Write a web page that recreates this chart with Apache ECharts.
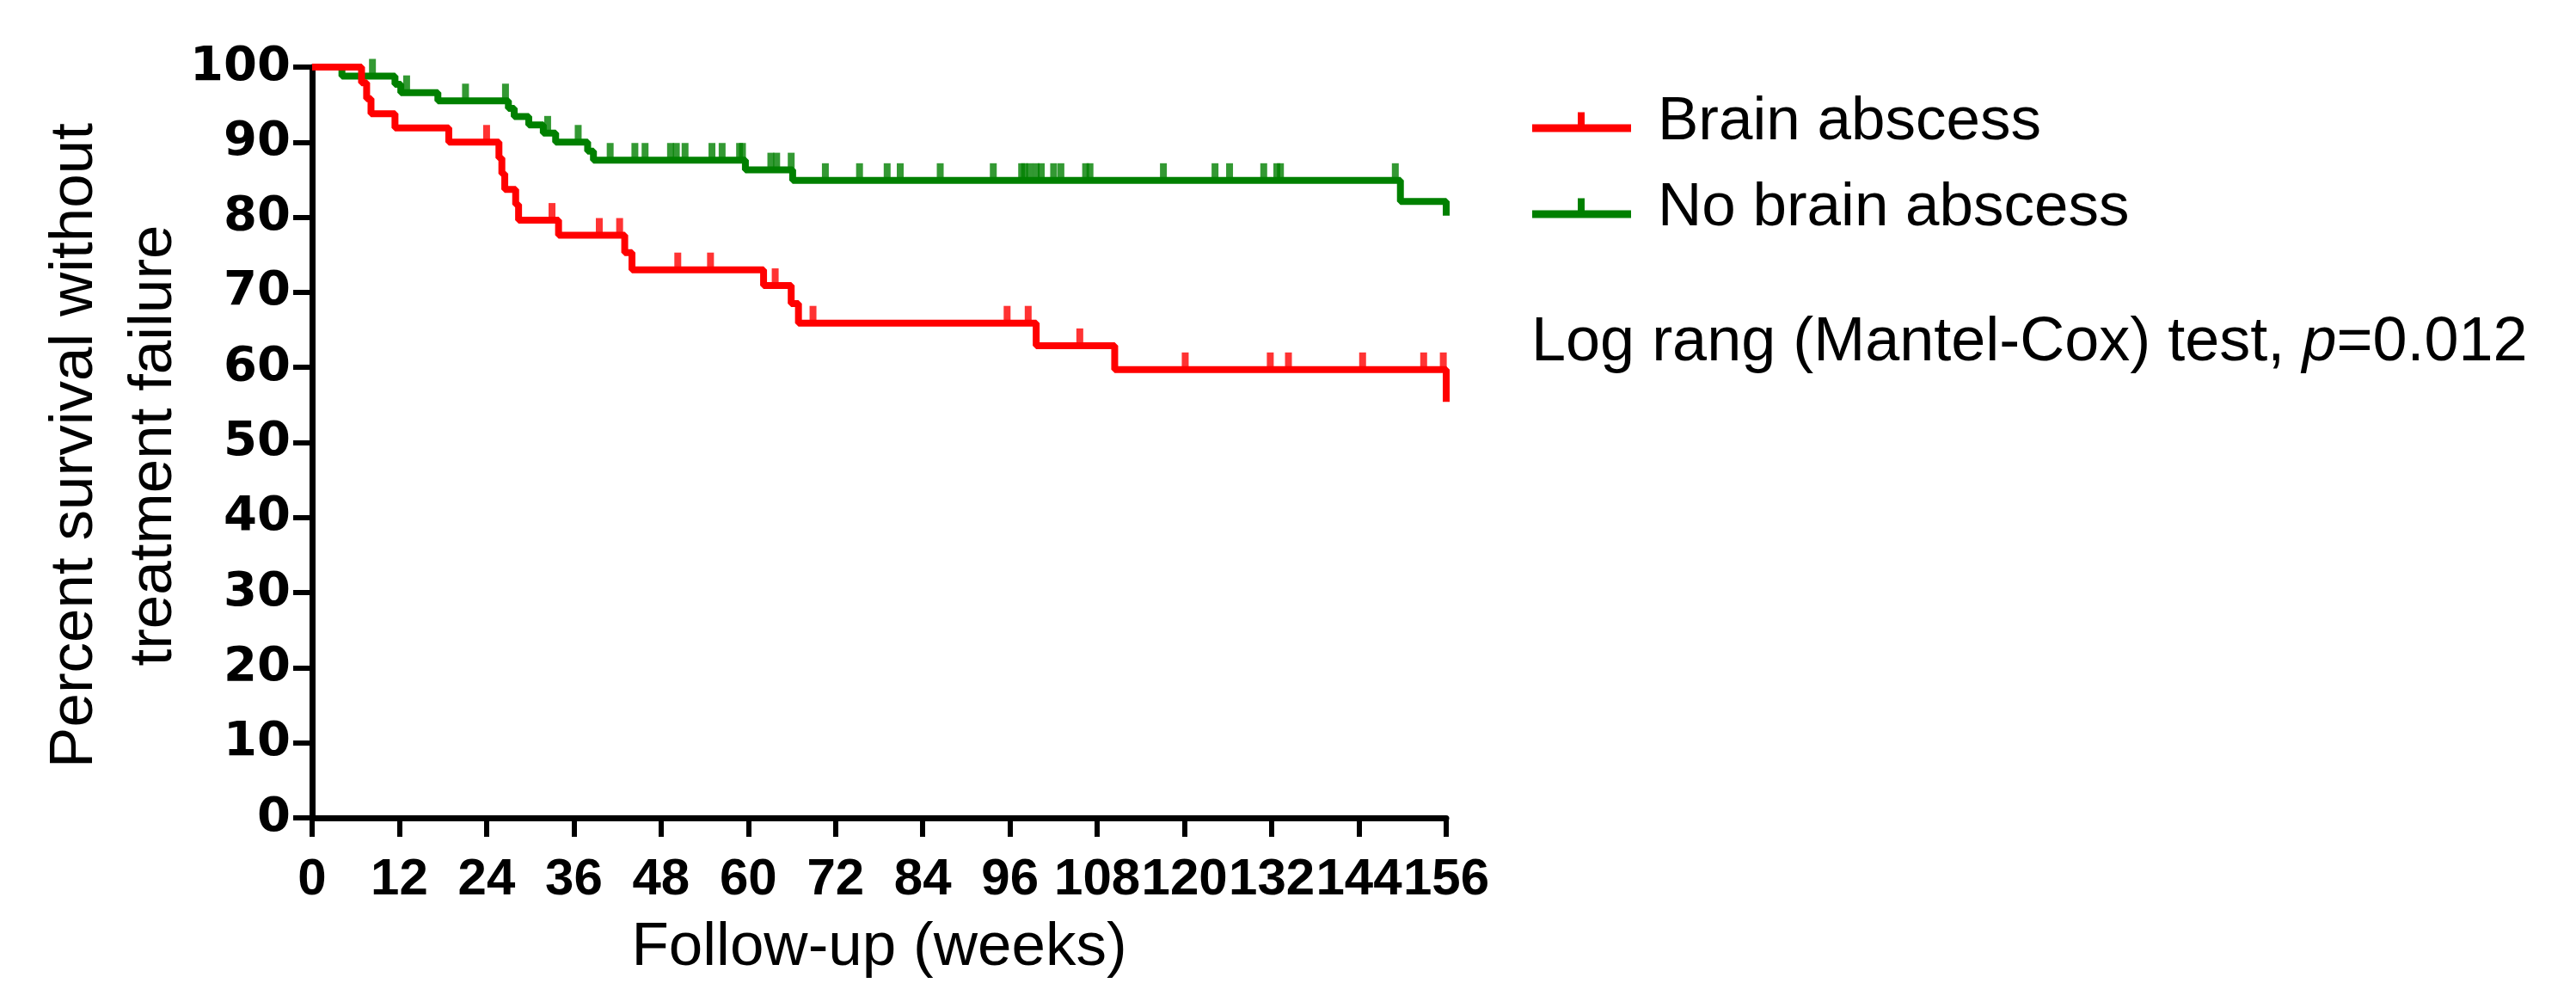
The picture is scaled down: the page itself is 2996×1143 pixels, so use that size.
<!DOCTYPE html>
<html>
<head>
<meta charset="utf-8">
<script src="https://cdn.jsdelivr.net/npm/echarts@6/dist/echarts.min.js"></script>
<style>
html,body{margin:0;padding:0;background:#fff;}
#chart{width:2996px;height:1143px;}
</style>
</head>
<body>
<div id="chart"></div>
<script>
// ---- data ----
const seriesNames = ['Brain abscess', 'No brain abscess'];

const redEventWeeks = [0, 6.8, 7.5, 8.1, 11.4, 18.8, 25.7, 26.1, 26.5, 28.0, 28.4, 33.9, 43.0, 44.0, 62.1, 65.9, 66.9, 99.6, 110.4, 156];
const redSurvival   = [100, 97.9, 95.8, 93.8, 91.9, 90.0, 87.9, 85.8, 83.7, 81.7, 79.6, 77.6, 75.3, 73.0, 70.9, 68.5, 65.9, 62.9, 59.7, 55.4];
const redCensoredWeeks = [24.0, 33.0, 39.5, 42.3, 50.3, 54.8, 63.7, 68.9, 95.6, 98.5, 105.6, 120.1, 131.8, 134.3, 144.5, 152.9, 155.6];

const greenEventWeeks = [0, 4.1, 11.4, 12.2, 17.3, 27.0, 27.8, 29.8, 31.8, 33.5, 37.9, 38.7, 59.6, 66.1, 149.7, 156];
const greenSurvival   = [100, 98.8, 97.7, 96.6, 95.5, 94.5, 93.4, 92.3, 91.2, 90.0, 88.8, 87.6, 86.3, 84.9, 82.1, 80.2];
const greenCensoredWeeks = [8.3, 13.0, 21.1, 26.6, 32.4, 36.6, 41.0, 44.4, 45.8, 49.3, 50.1, 51.3, 55.0, 56.4, 58.8, 59.2, 63.1, 63.9, 65.9, 70.6, 75.3, 79.1, 80.9, 86.4, 93.7, 97.6, 98.0, 98.7, 99.6, 100.3, 102.0, 103.0, 106.4, 107.0, 117.1, 124.2, 126.2, 130.9, 132.7, 133.2, 149.0];

const pValueText = ['Log rang (Mantel-Cox) test, ', 'p', '=0.012'];
const xTitle = 'Follow-up (weeks)';
const yTitle = 'Percent survival without\ntreatment failure';

// ---- helpers ----
function stepData(times, vals) { return times.map((t, i) => [t, vals[i]]); }
function censorData(times, vals, cens) {
  return cens.map(c => {
    let v = vals[0];
    for (let i = 0; i < times.length; i++) { if (times[i] <= c) v = vals[i]; }
    return [c, v];
  });
}

const RED = '#ff0000', GREEN = '#008000';
const FONT = '"Liberation Sans", Arial, sans-serif';
const legendIcon = 'path://M0,14 L115,14 L115,23 L0,23 Z M53,0 L61,0 L61,14 L53,14 Z';

const chart = echarts.init(document.getElementById('chart'), null, {renderer: 'canvas'});
chart.setOption({
  animation: false,
  backgroundColor: '#ffffff',
  grid: {left: 363, right: 1314, top: 78, height: 879, containLabel: false},
  xAxis: {
    type: 'value', min: 0, max: 156, interval: 12,
    name: xTitle, nameLocation: 'middle', nameGap: 116,
    nameTextStyle: {fontFamily: FONT, fontSize: 71, color: '#000'},
    axisLine: {lineStyle: {color: '#000', width: 7}},
    axisTick: {show: true, inside: false, length: 22, lineStyle: {color: '#000', width: 6}},
    axisLabel: {interval: 0, hideOverlap: false, margin: 42, fontFamily: FONT, fontWeight: 'bold', fontSize: 60, color: '#000'},
    splitLine: {show: false}
  },
  yAxis: {
    type: 'value', min: 0, max: 100, interval: 10,
    axisLine: {show: true, lineStyle: {color: '#000', width: 7}},
    axisTick: {show: true, inside: false, length: 22, lineStyle: {color: '#000', width: 6}},
    axisLabel: {margin: 25, fontFamily: '"DejaVu Sans", sans-serif', fontWeight: 'bold', fontSize: 56, color: '#000'},
    splitLine: {show: false}
  },
  legend: {
    orient: 'vertical', left: 1777, top: 97,
    itemWidth: 115, itemHeight: 23, itemGap: 20,
    icon: legendIcon,
    data: seriesNames,
    textStyle: {fontFamily: FONT, fontSize: 71, color: '#000', lineHeight: 80, padding: [0, 0, 0, 26]}
  },
  graphic: [
    {type: 'text', x: 133, y: 518, rotation: Math.PI / 2,
     style: {text: yTitle, fontFamily: FONT, fontSize: 71, lineHeight: 92, align: 'center', verticalAlign: 'middle', fill: '#000'}},
    {type: 'text', x: 1781, y: 399,
     style: {text: '{a|' + pValueText[0] + '}{i|' + pValueText[1] + '}{a|' + pValueText[2] + '}',
             verticalAlign: 'middle', align: 'left',
             rich: {a: {fontFamily: FONT, fontSize: 72, fill: '#000', color: '#000'},
                    i: {fontFamily: FONT, fontSize: 72, fontStyle: 'italic', fill: '#000', color: '#000'}}}}
  ],
  series: [
    {name: seriesNames[1], type: 'line', step: 'end', data: stepData(greenEventWeeks, greenSurvival),
     showSymbol: false, symbol: 'none', color: GREEN, lineStyle: {color: GREEN, width: 8}, z: 2},
    {name: seriesNames[1], type: 'scatter', data: censorData(greenEventWeeks, greenSurvival, greenCensoredWeeks),
     symbol: 'rect', symbolSize: [8, 20], symbolOffset: [0, '-50%'], itemStyle: {color: GREEN}, z: 2},
    {name: seriesNames[0], type: 'line', step: 'end', data: stepData(redEventWeeks, redSurvival),
     showSymbol: false, symbol: 'none', color: RED, lineStyle: {color: RED, width: 8}, z: 3},
    {name: seriesNames[0], type: 'scatter', data: censorData(redEventWeeks, redSurvival, redCensoredWeeks),
     symbol: 'rect', symbolSize: [8, 20], symbolOffset: [0, '-50%'], itemStyle: {color: RED}, z: 3}
  ]
});
</script>
</body>
</html>
